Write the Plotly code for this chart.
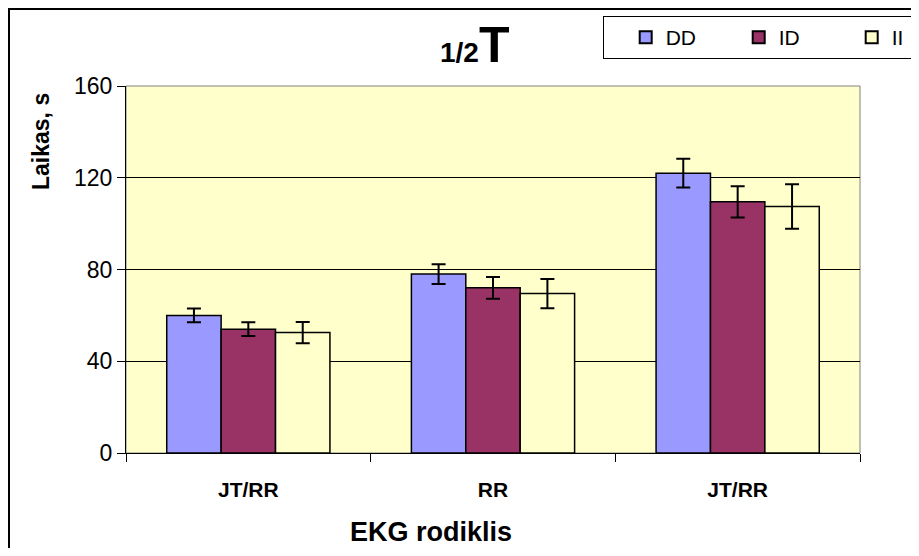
import plotly.graph_objects as go

categories = ["JT/RR", "RR", "JT/RR"]
series_names = ["DD", "ID", "II"]
dd_values = [60, 78, 122]
id_values = [54, 72, 109.5]
ii_values = [52.5, 69.5, 107.5]
dd_err = [3, 4.3, 6.3]
id_err = [3, 4.7, 6.8]
ii_err = [4.6, 6.4, 9.7]
y_ticks = [0, 40, 80, 120, 160]

colors = ["#9999FF", "#993366", "#FFFFCC"]
xpos = list(range(len(categories)))

fig = go.Figure()
for name, vals, errs, col in zip(series_names, [dd_values, id_values, ii_values],
                                  [dd_err, id_err, ii_err], colors):
    fig.add_trace(go.Bar(
        x=xpos, y=vals, name=name,
        marker=dict(color=col, line=dict(color="black", width=1.5)),
        error_y=dict(type="data", array=errs, visible=True, color="black",
                     thickness=2, width=7),
    ))

FONT = "Liberation Sans, Arial, sans-serif"
fig.update_layout(
    width=903, height=540,
    margin=dict(l=118, r=51, t=78, b=95, autoexpand=False),
    paper_bgcolor="white",
    plot_bgcolor="#FFFFCC",
    barmode="group",
    bargap=0.333,
    bargroupgap=0,
    font=dict(family=FONT, color="black"),
    showlegend=True,
    legend=dict(
        orientation="h", x=0.6499, y=1.1907, xanchor="left", yanchor="top",
        xref="paper", yref="paper",
        bgcolor="white", bordercolor="black", borderwidth=1,
        font=dict(size=21, family=FONT),
        title=dict(text="&nbsp;&nbsp;", side="left", font=dict(size=21, family=FONT)),
        entrywidth=68, entrywidthmode="pixels",
        itemsizing="constant",
    ),
    xaxis=dict(
        range=[-0.5, 2.5], tickvals=xpos, ticktext=categories,
        ticks="", showgrid=False, zeroline=False,
        showline=True, linecolor="black", linewidth=1,
        tickfont=dict(size=21, family=FONT, weight="bold"),
        ticklabelstandoff=18,
        minor=dict(ticks="outside", tick0=-0.5, dtick=1, ticklen=8,
                   tickcolor="black", showgrid=False),
    ),
    yaxis=dict(
        range=[0, 160], tickvals=y_ticks, ticks="outside", ticklen=8,
        tickcolor="black", showgrid=True, gridcolor="black", gridwidth=1,
        zeroline=False, showline=True, linecolor="black", linewidth=1,
        tickfont=dict(size=23, family=FONT),
    ),
    shapes=[
        dict(type="rect", xref="paper", yref="paper", x0=0, x1=1, y0=0, y1=1,
             line=dict(color="#808080", width=1), layer="below"),
        dict(type="rect", xref="paper", yref="paper",
             x0=-0.1594, x1=1.3, y0=-0.5, y1=1.2098,
             line=dict(color="black", width=2)),
    ],
    annotations=[
        dict(text="<b><span style='font-size:28px'>1/2</span><span style='font-size:50px'>T</span></b>",
             xref="paper", yref="paper", x=0.4745, y=1.112,
             xanchor="center", yanchor="middle", showarrow=False,
             font=dict(family=FONT, color="black")),
        dict(text="<b>Laikas, s</b>", xref="paper", yref="paper",
             x=-0.1158, y=0.8474, xanchor="center", yanchor="middle",
             textangle=-90, showarrow=False, font=dict(size=23, family=FONT)),
        dict(text="<b>EKG rodiklis</b>", xref="paper", yref="paper",
             x=0.4155, y=-0.2153, xanchor="center", yanchor="middle",
             showarrow=False, font=dict(size=27, family=FONT)),
    ],
)

fig.write_html("out.html")
